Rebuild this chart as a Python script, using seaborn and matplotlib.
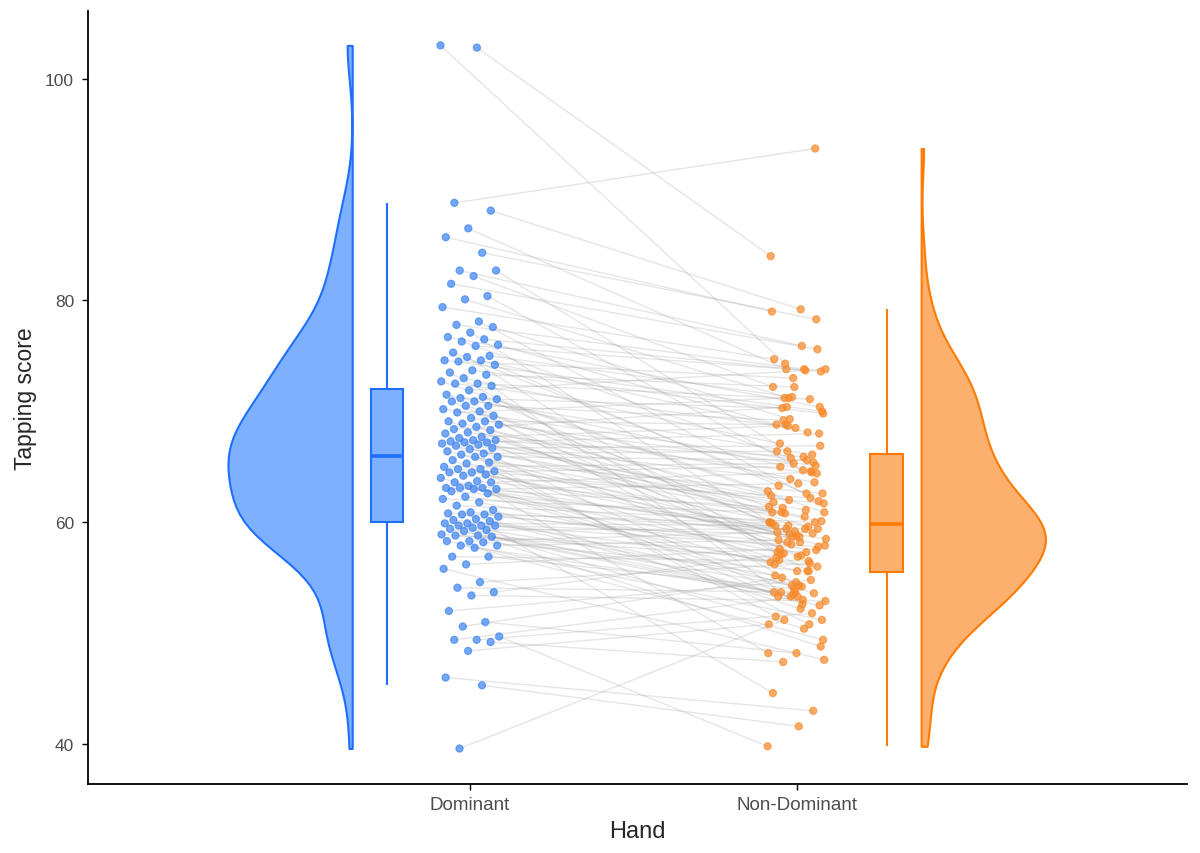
import numpy as np
import pandas as pd
import matplotlib
matplotlib.use('Agg')
import matplotlib.pyplot as plt
import seaborn as sns

# Hand categories and paired tapping scores (one entry per participant, same order)
hands = ['Dominant', 'Non-Dominant']

dominant = [
    103.0, 102.8, 88.8, 88.1, 86.5, 85.7, 84.3, 82.7, 82.7, 82.2,
    81.5, 80.4, 80.1, 79.4, 78.1, 77.8, 77.6, 77.1, 76.7, 76.5,
    76.3, 76.0, 75.9, 75.3, 75.0, 74.9, 74.6, 74.6, 74.5, 74.2,
    73.7, 73.5, 73.3, 73.0, 72.7, 72.5, 72.5, 72.3, 71.9, 71.5,
    71.3, 71.2, 71.1, 70.9, 70.9, 70.5, 70.5, 70.2, 70.0, 69.9,
    69.6, 69.4, 69.1, 69.1, 68.9, 68.8, 68.6, 68.4, 68.3, 68.1,
    68.0, 67.7, 67.6, 67.4, 67.4, 67.3, 67.2, 67.2, 67.1, 67.0,
    66.9, 66.7, 66.6, 66.4, 66.2, 66.1, 65.9, 65.9, 65.6, 65.4,
    65.3, 65.0, 64.8, 64.8, 64.6, 64.5, 64.5, 64.3, 64.2, 64.0,
    63.7, 63.6, 63.6, 63.3, 63.1, 63.1, 63.1, 63.0, 63.0, 62.8,
    62.6, 62.3, 62.1, 61.8, 61.5, 61.1, 60.9, 60.8, 60.7, 60.7,
    60.5, 60.3, 60.2, 60.1, 59.9, 59.9, 59.7, 59.7, 59.7, 59.5,
    59.4, 59.3, 59.2, 58.9, 58.8, 58.8, 58.7, 58.3, 58.3, 58.2,
    57.9, 57.9, 57.7, 56.9, 56.9, 56.2, 55.8, 54.6, 54.1, 53.7,
    53.4, 52.0, 51.0, 50.6, 49.7, 49.4, 49.4, 49.2, 48.4, 46.0,
    45.3, 39.6,
]

non_dominant = [
    74.3, 84.0, 93.7, 79.2, 73.8, 79.0, 78.3, 75.9, 66.4, 72.2,
    75.6, 64.7, 71.2, 74.7, 61.9, 73.8, 69.3, 59.7, 70.4, 73.7,
    65.8, 68.8, 73.6, 62.6, 71.3, 57.3, 70.0, 68.1, 73.0, 63.3,
    69.8, 55.6, 72.2, 67.1, 60.9, 71.1, 68.5, 53.7, 73.8, 64.6,
    58.8, 70.3, 62.8, 66.1, 56.9, 69.2, 61.4, 65.4, 54.3, 71.2,
    60.0, 63.6, 58.2, 68.8, 62.4, 65.1, 57.0, 70.4, 60.9, 64.4,
    52.6, 68.7, 61.8, 59.4, 65.9, 62.0, 56.2, 68.0, 60.5, 63.9,
    51.5, 66.9, 61.1, 58.0, 66.4, 60.1, 65.6, 58.7, 53.3, 62.6,
    59.6, 65.3, 56.6, 61.7, 50.8, 59.2, 65.0, 57.9, 62.2, 54.6,
    60.9, 58.5, 64.5, 55.6, 61.3, 48.2, 59.0, 63.5, 57.2, 60.0,
    53.6, 58.7, 60.8, 56.4, 60.0, 52.2, 59.4, 59.9, 57.5, 54.2,
    58.2, 44.6, 56.0, 53.0, 59.7, 53.7, 57.8, 50.4, 58.9, 55.2,
    52.5, 59.4, 53.3, 56.8, 48.8, 57.3, 54.3, 59.1, 51.2, 55.6,
    53.5, 58.4, 49.4, 56.5, 54.0, 57.6, 47.6, 56.3, 53.7, 57.1,
    52.9, 54.8, 48.2, 55.0, 39.8, 51.8, 53.3, 47.4, 50.8, 43.0,
    41.6, 51.2,
]

edge_col = {'Dominant': '#1F6FFF', 'Non-Dominant': '#FF7A00'}
fill_col = {'Dominant': '#7DB1FF', 'Non-Dominant': '#FDB06E'}
pt_col = {'Dominant': '#3C84F2', 'Non-Dominant': '#F78A2A'}

# layout (category at 1 and 2, clouds and boxes offset outward)
cat_x = {'Dominant': 1.0, 'Non-Dominant': 2.0}
half_w = 0.38
# seaborn puts a split half with its flat side at pos +/- width/2
violin_x = {'Dominant': 0.64 - half_w / 2, 'Non-Dominant': 2.38 + half_w / 2}
box_x = {'Dominant': 0.746, 'Non-Dominant': 2.275}

n = len(dominant)
ids = np.arange(n)
# fixed (non-random) horizontal jitter for the paired points
jit_d = ((ids * 0.618034) % 1 - 0.5) * 0.18
jit_n = ((ids * 0.754878 + 0.3) % 1 - 0.5) * 0.18

df = pd.DataFrame({
    'id': np.r_[ids, ids],
    'Hand': np.repeat(hands, n),
    'score': np.r_[dominant, non_dominant],
})
df['xpos'] = df['Hand'].map(cat_x) + np.r_[jit_d, jit_n]

sns.set_style('white')
plt.rcParams['font.family'] = ['Liberation Sans', 'DejaVu Sans']

fig = plt.figure(figsize=(12, 8.54), dpi=100)
ax = fig.add_axes([88 / 1200, 69 / 854, (1187 - 88) / 1200, (842 - 69) / 854])

for hand in hands:
    sub = df[df['Hand'] == hand].copy()
    vals = sub['score'].to_numpy()
    # bandwidth like R's bw.nrd0
    sd = vals.std(ddof=1)
    iqr = np.subtract(*np.percentile(vals, [75, 25]))
    bw = 0.9 * min(sd, iqr / 1.34) * len(vals) ** -0.2 / sd

    sub['vpos'] = violin_x[hand]
    sns.violinplot(data=sub, x='vpos', y='score', hue='Hand', hue_order=hands,
                   split=True, native_scale=True, inner=None, cut=0, bw_method=bw,
                   density_norm='width', width=half_w, palette=fill_col,
                   linecolor=edge_col[hand], linewidth=1.5, saturation=1,
                   legend=False, ax=ax)

    sub['bpos'] = box_x[hand]
    sns.boxplot(data=sub, x='bpos', y='score', native_scale=True, width=0.1,
                color=fill_col[hand], linecolor=edge_col[hand], linewidth=1.5,
                saturation=1, showfliers=False,
                capprops=dict(linewidth=0),
                medianprops=dict(linewidth=2.6, color=edge_col[hand]),
                ax=ax)

# paired lines
sns.lineplot(data=df, x='xpos', y='score', units='id', estimator=None, sort=False,
             color='#9A9A9A', alpha=0.25, linewidth=1, ax=ax)

# points
sns.scatterplot(data=df, x='xpos', y='score', hue='Hand', palette=pt_col,
                s=26, alpha=0.7, linewidth=0.9, legend=False,
                zorder=3, ax=ax)
pts = ax.collections[-1]
pts.set_edgecolors(pts.get_facecolors())

ax.set_xlim(-0.168, 3.193)
ax.set_ylim(36.4, 106.1)
ax.set_xticks([1, 2])
ax.set_xticklabels(hands)
ax.set_yticks([40, 60, 80, 100])
ax.tick_params(axis='both', direction='out', length=4, width=1, color='black',
               labelcolor='#4D4D4D', bottom=True, left=True)
ax.tick_params(axis='x', labelsize=13.5, pad=5)
ax.tick_params(axis='y', labelsize=12.5, pad=6)
for s in ['top', 'right']:
    ax.spines[s].set_visible(False)
for s in ['left', 'bottom']:
    ax.spines[s].set_color('black')
    ax.spines[s].set_linewidth(1.3)
ax.set_xlabel('Hand', fontsize=17, labelpad=5)
ax.set_ylabel('Tapping score', fontsize=16.5, labelpad=6)

fig.savefig('out.png', dpi=100)
